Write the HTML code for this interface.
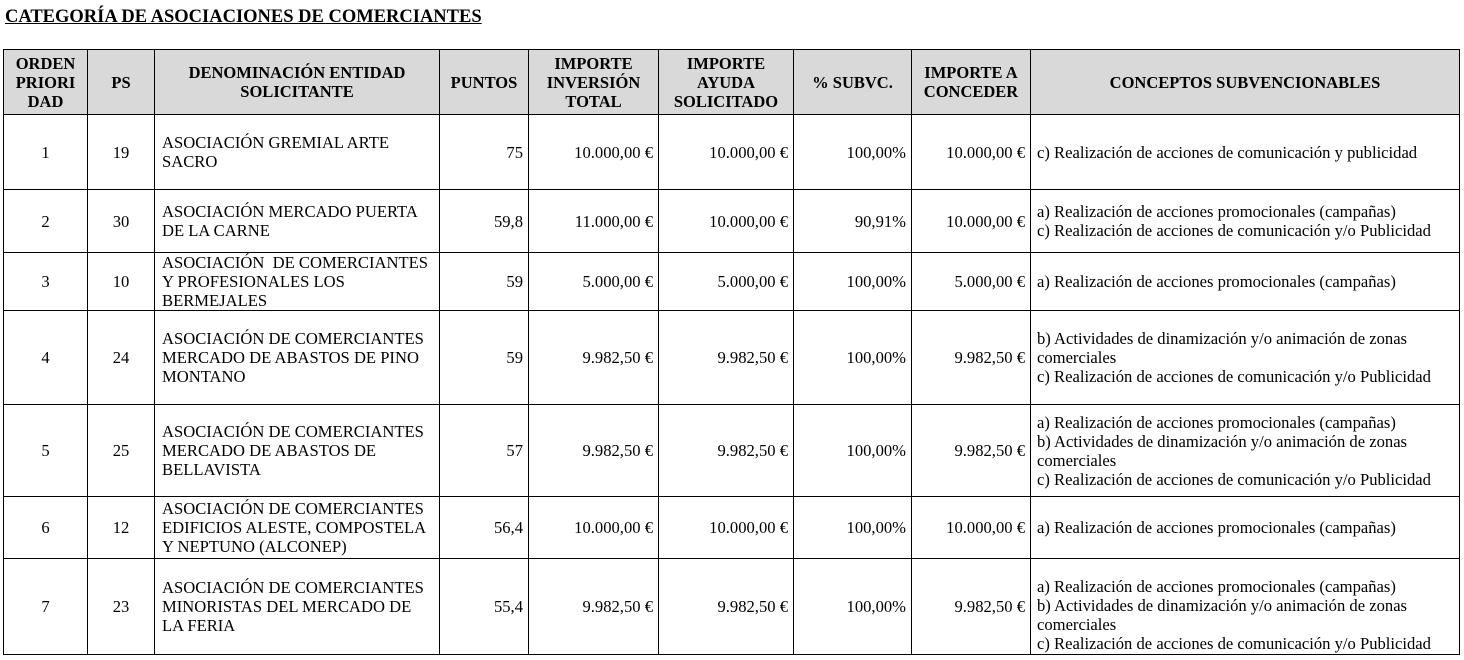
<!DOCTYPE html>
<html><head><meta charset="utf-8">
<style>
body{margin:0;width:1464px;height:660px;background:#fff;overflow:hidden;font-family:"Liberation Serif",serif;color:#000}
#title{position:absolute;left:5px;top:7px;font-weight:bold;font-size:18.5px;text-decoration:underline;white-space:nowrap}
table{position:absolute;left:3px;top:49px;border-collapse:collapse;table-layout:fixed;font-size:16.6px;line-height:19px}
td,th{border:1.3px solid #000;padding:0 6px;vertical-align:middle;overflow:hidden;white-space:nowrap}
th{background:#d9d9d9;font-weight:bold;text-align:center;line-height:19px;font-size:16.5px;padding:0 2px}
.c{text-align:center}.r{text-align:right;padding-right:5px}.l{text-align:left}
.n{padding-left:7px}
</style></head><body>
<div id="title">CATEGORÍA DE ASOCIACIONES DE COMERCIANTES</div>
<table>
<colgroup><col style="width:84px"><col style="width:67px"><col style="width:285px"><col style="width:89px"><col style="width:130px"><col style="width:135px"><col style="width:118px"><col style="width:119px"><col style="width:429px"></colgroup>
<tr style="height:65px">
<th>ORDEN<br>PRIORI<br>DAD</th>
<th>PS</th>
<th>DENOMINACIÓN ENTIDAD<br>SOLICITANTE</th>
<th>PUNTOS</th>
<th>IMPORTE<br>INVERSIÓN<br>TOTAL</th>
<th>IMPORTE<br>AYUDA<br>SOLICITADO</th>
<th>% SUBVC.</th>
<th>IMPORTE A<br>CONCEDER</th>
<th>CONCEPTOS SUBVENCIONABLES</th></tr>
<tr style="height:75px"><td class="c">1</td><td class="c">19</td><td class="l n">ASOCIACIÓN GREMIAL ARTE<br>SACRO</td><td class="r">75</td><td class="r">10.000,00 €</td><td class="r">10.000,00 €</td><td class="r">100,00%</td><td class="r">10.000,00 €</td><td class="l">c) Realización de acciones de comunicación y publicidad</td></tr>
<tr style="height:63px"><td class="c">2</td><td class="c">30</td><td class="l n">ASOCIACIÓN MERCADO PUERTA<br>DE LA CARNE</td><td class="r">59,8</td><td class="r">11.000,00 €</td><td class="r">10.000,00 €</td><td class="r">90,91%</td><td class="r">10.000,00 €</td><td class="l">a) Realización de acciones promocionales (campañas)<br>c) Realización de acciones de comunicación y/o Publicidad</td></tr>
<tr style="height:58px"><td class="c">3</td><td class="c">10</td><td class="l n">ASOCIACIÓN &nbsp;DE COMERCIANTES<br>Y PROFESIONALES LOS<br>BERMEJALES</td><td class="r">59</td><td class="r">5.000,00 €</td><td class="r">5.000,00 €</td><td class="r">100,00%</td><td class="r">5.000,00 €</td><td class="l">a) Realización de acciones promocionales (campañas)</td></tr>
<tr style="height:94px"><td class="c">4</td><td class="c">24</td><td class="l n">ASOCIACIÓN DE COMERCIANTES<br>MERCADO DE ABASTOS DE PINO<br>MONTANO</td><td class="r">59</td><td class="r">9.982,50 €</td><td class="r">9.982,50 €</td><td class="r">100,00%</td><td class="r">9.982,50 €</td><td class="l">b) Actividades de dinamización y/o animación de zonas<br>comerciales<br>c) Realización de acciones de comunicación y/o Publicidad</td></tr>
<tr style="height:92px"><td class="c">5</td><td class="c">25</td><td class="l n">ASOCIACIÓN DE COMERCIANTES<br>MERCADO DE ABASTOS DE<br>BELLAVISTA</td><td class="r">57</td><td class="r">9.982,50 €</td><td class="r">9.982,50 €</td><td class="r">100,00%</td><td class="r">9.982,50 €</td><td class="l">a) Realización de acciones promocionales (campañas)<br>b) Actividades de dinamización y/o animación de zonas<br>comerciales<br>c) Realización de acciones de comunicación y/o Publicidad</td></tr>
<tr style="height:62px"><td class="c">6</td><td class="c">12</td><td class="l n">ASOCIACIÓN DE COMERCIANTES<br>EDIFICIOS ALESTE, COMPOSTELA<br>Y NEPTUNO (ALCONEP)</td><td class="r">56,4</td><td class="r">10.000,00 €</td><td class="r">10.000,00 €</td><td class="r">100,00%</td><td class="r">10.000,00 €</td><td class="l">a) Realización de acciones promocionales (campañas)</td></tr>
<tr style="height:96px"><td class="c">7</td><td class="c">23</td><td class="l n">ASOCIACIÓN DE COMERCIANTES<br>MINORISTAS DEL MERCADO DE<br>LA FERIA</td><td class="r">55,4</td><td class="r">9.982,50 €</td><td class="r">9.982,50 €</td><td class="r">100,00%</td><td class="r">9.982,50 €</td><td class="l" style="padding-top:16px">a) Realización de acciones promocionales (campañas)<br>b) Actividades de dinamización y/o animación de zonas<br>comerciales<br>c) Realización de acciones de comunicación y/o Publicidad</td></tr>
</table>
</body></html>
